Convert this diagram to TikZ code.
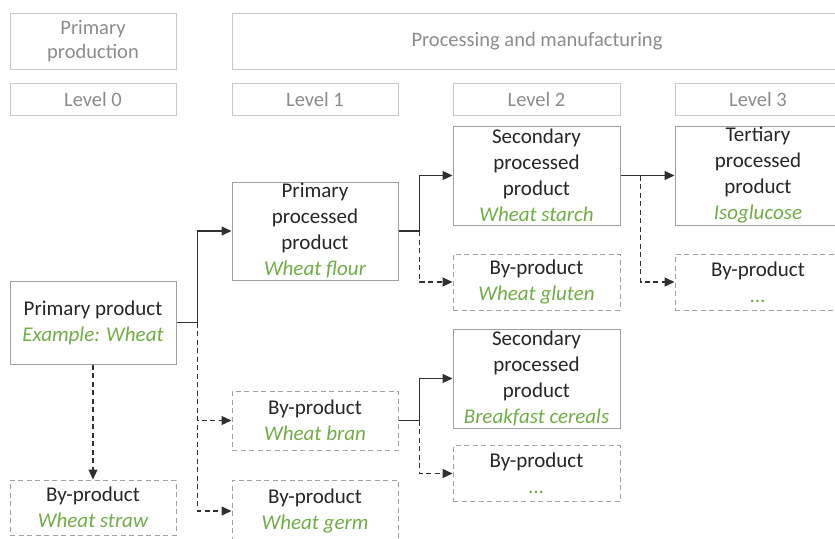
\documentclass[tikz,border=0pt]{standalone}
\usepackage{fontspec}
\setmainfont{Carlito}
\usetikzlibrary{arrows.meta,calc}
\definecolor{hdrline}{HTML}{C8C8C8}
\definecolor{hdrtext}{HTML}{8C8C8C}
\definecolor{boxline}{HTML}{A0A0A0}
\definecolor{txt}{HTML}{262626}
\definecolor{grn}{HTML}{70AD47}
\definecolor{conn}{HTML}{303030}
\tikzset{
  hdrfont/.style={font=\fontsize{20.5}{24}\selectfont},
  hdr/.style={draw=hdrline, line width=0.9pt, text=hdrtext, align=center, inner sep=0pt, hdrfont},
  mainbox/.style={draw=boxline, line width=1pt, text=txt, align=center, inner sep=0pt,
    font=\fontsize{21}{26}\selectfont},
  bybox/.style={mainbox, dash pattern=on 5pt off 3.5pt},
  solidarrow/.style={draw=conn, line width=1.2pt, -{Triangle[length=10pt,width=9pt]}},
  dasharrow/.style={solidarrow, dash pattern=on 5pt off 3.5pt},
}
\newcommand{\ex}[1]{\textcolor{grn}{\itshape #1}}
\begin{document}
\begin{tikzpicture}[x=1pt,y=-1pt]
\useasboundingbox (0,0) rectangle (835,538);
\clip (0,0) rectangle (835,538);
% headers
\node[hdr, minimum width=166pt, minimum height=56pt] (hpp) at (93,41) {Primary\\production};
\node[hdr, minimum width=610pt, minimum height=56pt, anchor=west] (hpm) at (232,41) {};
\node[text=hdrtext, hdrfont] (hpmt) at (537,41) {Processing and manufacturing};
\node[hdr, minimum width=166pt, minimum height=32pt] (l0) at (93,99) {Level 0};
\node[hdr, minimum width=166pt, minimum height=32pt] (l1) at (315,99) {Level 1};
\node[hdr, minimum width=167pt, minimum height=32pt] (l2) at (536.5,99) {Level 2};
\node[hdr, minimum width=166pt, minimum height=32pt] (l3) at (758,99) {Level 3};
% main boxes
\node[mainbox, minimum width=166pt, minimum height=83pt] (pp) at (93,322.5) {Primary product\\\ex{Example: Wheat}};
\node[mainbox, minimum width=166pt, minimum height=98pt] (ppp) at (315,231) {Primary\\processed\\product\\\ex{Wheat flour}};
\node[mainbox, minimum width=167pt, minimum height=99pt] (spa) at (536.5,175.5) {Secondary\\processed\\product\\\ex{Wheat starch}};
\node[mainbox, minimum width=166pt, minimum height=99pt] (tp) at (758,175.5) {Tertiary\\processed\\product\\\ex{Isoglucose}};
\node[bybox, minimum width=167pt, minimum height=56pt] (glu) at (536.5,282) {By-product\\\ex{Wheat gluten}};
\node[bybox, minimum width=166pt, minimum height=56pt] (by3) at (758,282) {By-product\\\ex{...}};
\node[mainbox, minimum width=167pt, minimum height=99pt] (spb) at (536.5,378.5) {Secondary\\processed\\product\\\ex{Breakfast cereals}};
\node[bybox, minimum width=167pt, minimum height=56pt] (by2) at (536.5,473.5) {By-product\\\ex{...}};
\node[bybox, minimum width=166pt, minimum height=59pt] (bran) at (315,420.5) {By-product\\\ex{Wheat bran}};
\node[bybox, minimum width=166pt, minimum height=62pt] (germ) at (315,511) {By-product\\\ex{Wheat germ}};
\node[bybox, minimum width=166pt, minimum height=55pt] (straw) at (93,507.5) {By-product\\\ex{Wheat straw}};
% junctions
\coordinate (j1) at ($(pp.east)+(21,0)$);
\coordinate (j2) at ($(ppp.east)+(21,0)$);
\coordinate (j3) at ($(spa.east)+(20,0)$);
\coordinate (j4) at ($(bran.east)+(21,0)$);
% connectors
\draw[dasharrow] (j1) |- (bran.west);
\draw[dasharrow] (j1) |- (germ.west);
\draw[dasharrow] (pp.south) -- (straw.north);
\draw[solidarrow] (pp.east) -- (j1) |- (ppp.west);
\draw[dasharrow] (j2) |- (glu.west);
\draw[solidarrow] (ppp.east) -- (j2) |- (spa.west);
\draw[dasharrow] (j3) |- (by3.west);
\draw[solidarrow] (spa.east) -- (tp.west);
\draw[dasharrow] (j4) |- (by2.west);
\draw[solidarrow] (bran.east) -- (j4) |- (spb.west);
\end{tikzpicture}
\end{document}
